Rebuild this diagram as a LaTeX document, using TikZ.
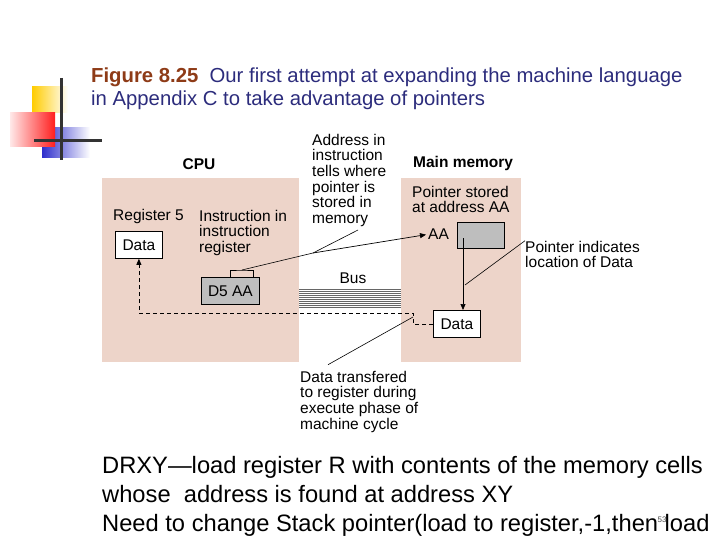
\documentclass[tikz,border=0pt]{standalone}
\usepackage{fontspec}
\setmainfont{Liberation Sans}
\usetikzlibrary{positioning,arrows.meta,calc}
\definecolor{FigRed}{HTML}{8E3B17}
\definecolor{FigNavy}{HTML}{2C2C7C}
\definecolor{UnitPink}{HTML}{EDD4C9}
\definecolor{CellGray}{HTML}{BEBEBE}
\definecolor{DecoGold}{HTML}{FFCC00}
\definecolor{DecoRed}{HTML}{FF1E1E}
\definecolor{DecoBlue}{HTML}{2E2ECC}
\newcommand{\Diag}{\fontsize{15.5}{15.7}\selectfont}
\tikzset{
  unit/.style={fill=UnitPink, draw=none, inner sep=0, anchor=north west},
  cell/.style={draw=black, line width=0.8pt, fill=white, inner sep=0,
               minimum width=47pt, minimum height=27pt, anchor=north west, font=\Diag},
  cellgray/.style={cell, fill=CellGray},
  note/.style={align=left, inner sep=0, anchor=north west, font=\Diag},
  callout/.style={line width=0.6pt},
  flow/.style={-{Triangle[length=6pt,width=5pt]}, line width=0.7pt},
  xfer/.style={flow, dash pattern=on 4pt off 3pt},
  busline/.style={line width=0.55pt, black!60},
}

\begin{document}
\begin{tikzpicture}[x=1pt,y=1pt]
  \useasboundingbox (0,0) rectangle (720,-540);
  % slide decoration
  \shade[left color=DecoGold, middle color=DecoGold, right color=white] (32,-87) rectangle (68,-113);
  \shade[left color=DecoBlue, middle color=DecoBlue!85, right color=white] (42,-128) rectangle (90,-158);
  \shade[left color=DecoRed!10, right color=DecoRed] (10,-113) rectangle (55,-147);
  \draw[line width=3pt, black!80] (61,-78) -- (61,-160);
  \draw[line width=3pt, black!80] (34,-141) -- (102,-141);

  % caption
  \node[note, font=\fontsize{20.3}{23}\selectfont, text=FigNavy] (cap) at (91,-67.2)
    {\textcolor{FigRed}{\textbf{Figure 8.25}}\ \ Our first attempt at expanding the machine language\\
     in Appendix C to take advantage of pointers};

  % CPU and main memory
  \node[unit, minimum width=197pt, minimum height=184pt] (cpu) at (102,-178) {};
  \node[unit, minimum width=120pt, minimum height=184pt] (mem) at (401,-178) {};
  \node[font=\Diag\bfseries, anchor=base, inner sep=0] (cpulbl) at (199,-170) {CPU};
  \node[font=\Diag\bfseries, anchor=base west, inner sep=0] (memlbl) at (413,-168) {Main memory};

  \node[note, anchor=base west] (reglbl) at (113,-221) {Register 5};
  \node[cell] (reg) at (115,-231) {Data};
  \node[note] (irlbl) at (199,-209.7) {Instruction in\\instruction\\register};
  \node[cellgray, minimum width=58pt] (ir) at (201,-277) {D5 AA};
  \coordinate (brk) at ($(ir.north)+(11.5,7)$);
  \draw[callout] ($(brk)+(-11.5,-7)$) |- (brk) -| ($(brk)+(11.5,-7)$);

  \node[note] (addrnote) at (312,-133.7)
    {Address in\\instruction\\tells where\\pointer is\\stored in\\memory};
  \node[note] (ptrnote) at (412,-185.7) {Pointer stored\\at address AA};
  \node[note, anchor=base west] (aa) at (428,-240) {AA};
  \node[cellgray, minimum height=26pt] (ptr) at (457,-222) {};
  \node[cell] (mdata) at (433,-310) {Data};
  \node[note] (locnote) at (525,-240.7) {Pointer indicates\\location of Data};
  \node[note] (xfernote) at (300,-370.7)
    {Data transfered\\to register during\\execute phase of\\machine cycle};

  % bus
  \foreach \k [evaluate=\k as \yb using -289-2*\k] in {0,...,9}
    \draw[busline] (cpu.east |- 0,\yb) -- (mem.west |- 0,\yb);
  \node[note, anchor=base] (buslbl) at (353,-283) {Bus};

  % connectors
  \coordinate (bend) at (313,-253);
  \coordinate (addrtip) at (358,-230);
  \draw[callout] (brk) -- (bend);
  \draw[flow] (bend) -- ([xshift=-2pt]aa.west);
  \draw[callout] (addrtip) -- (bend);

  \coordinate (ptrsrc) at (463,-238);
  \coordinate (loctip) at (465,-285);
  \draw[flow] (ptrsrc) -- (ptrsrc |- mdata.north);
  \draw[callout] (locnote.north west) -- (loctip);

  \coordinate (tap) at (413,-313);
  \draw[xfer] (mdata.west) -- (tap |- mdata.west) -- (tap) -- (reg.south |- tap) -- (reg.south);
  \draw[callout] ([yshift=-4pt]tap) -- ([xshift=28pt,yshift=6pt]xfernote.north west);

  % slide text
  \node[note, font=\fontsize{23.7}{29}\selectfont] (body) at (102,-455.7)
    {DRXY—load register R with contents of the memory cells\\
     whose\ \ address is found at address XY\\
     Need to change Stack pointer(load to register,-1,then load};
  \node[font=\fontsize{8}{10}\selectfont, text=black!70, inner sep=0] (pgno) at (662,-520) {53};
\end{tikzpicture}
\end{document}
